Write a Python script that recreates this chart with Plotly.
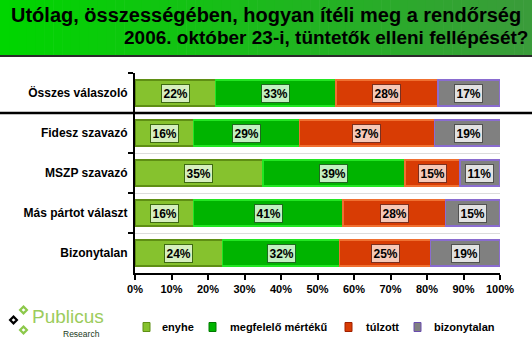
import plotly.graph_objects as go

# ---------------- data ----------------
categories = ["Összes válaszoló", "Fidesz szavazó", "MSZP szavazó",
              "Más pártot választ", "Bizonytalan"]
series_names = ["enyhe", "megfelelő mértékű", "túlzott", "bizonytalan"]
enyhe = [22, 16, 35, 16, 24]
megfelelo = [33, 29, 39, 41, 32]
tulzott = [28, 37, 15, 28, 25]
bizonytalan = [17, 19, 11, 15, 19]
x_ticks = [0, 10, 20, 30, 40, 50, 60, 70, 80, 90, 100]
title_lines = ["Utólag, összességében, hogyan ítéli meg a rendőrség",
               "2006. október 23-i, tüntetők elleni fellépését?"]

series_values = [enyhe, megfelelo, tulzott, bizonytalan]

# ---------------- styles ----------------
W, H = 532, 352
L, R, T, B = 135, 32, 73, 79
fill_colors = ["#86c22e", "#00b400", "#d83c04", "#808080"]
line_colors = ["#5f8f14", "#22e622", "#f07030", "#8a6cd0"]
legend_border = ["#5f8f14", "#007a00", "#a02000", "#6a4cb0"]
label_bg = ["#d6efbf", "#c2f0c2", "#f6c9b8", "#e2e2e2"]
label_border = ["#3d6a12", "#1f6a1f", "#7a3020", "#505050"]
FONT = "Liberation Sans, Arial, sans-serif"


def px(x, y):
    """pixel -> paper coords"""
    return (x - L) / (W - L - R), (H - B - y) / (H - T - B)


fig = go.Figure()
for name, vals, fc, lc in zip(series_names, series_values, fill_colors, line_colors):
    fig.add_trace(go.Bar(
        y=categories, x=vals, name=name, orientation="h",
        marker=dict(color=fc, line=dict(color=lc, width=1.5)),
        hoverinfo="skip", showlegend=False,
    ))

# value labels (boxes) placed through the data axes
annotations = []
for ci, cat in enumerate(categories):
    start = 0
    for si, vals in enumerate(series_values):
        v = vals[ci]
        annotations.append(dict(
            x=start + v / 2, y=cat, xref="x", yref="y",
            text=f"{v}%", showarrow=False,
            font=dict(family=FONT, size=12, color="black", weight="bold"),
            bgcolor=label_bg[si], bordercolor=label_border[si],
            borderwidth=1, borderpad=1.5,
        ))
        start += v

shapes = []
# title gradient band
N = 60
c0 = (0, 214, 0)
c1 = (58, 156, 58)
for i in range(N):
    t = i / (N - 1)
    col = "rgb(%d,%d,%d)" % tuple(int(a + (b - a) * t) for a, b in zip(c0, c1))
    x0, y0 = px(i * W / N, 0)
    x1, y1 = px((i + 1) * W / N + 0.6, 55)
    shapes.append(dict(type="rect", xref="paper", yref="paper",
                       x0=x0, x1=x1, y0=y0, y1=y1,
                       line=dict(width=0), fillcolor=col, layer="below"))
x0, y0 = px(0, 56)
x1, _ = px(W, 56)
shapes.append(dict(type="line", xref="paper", yref="paper", x0=x0, x1=x1,
                   y0=y0, y1=y0, line=dict(color="#2a2a2a", width=2)))

# separator under "Összes válaszoló"
sx0, _ = px(0, 0)
sx1, _ = px(W, 0)
shapes.append(dict(type="line", xref="paper", yref="y", x0=sx0, x1=sx1,
                   y0=0.5, y1=0.5, line=dict(color="black", width=2.5)))


# logo diamonds
def diamond(cx, cy, r, color):
    pts = [px(cx, cy - r), px(cx + r, cy), px(cx, cy + r), px(cx - r, cy)]
    path = "M " + " L ".join(f"{a},{b}" for a, b in pts) + " Z"
    return dict(type="path", xref="paper", yref="paper", path=path,
                line=dict(color=color, width=2.2), fillcolor="white")


shapes.append(diamond(13.5, 320, 3.4, "black"))
shapes.append(diamond(23.5, 310, 3.4, "#8cc84a"))
shapes.append(diamond(23.5, 330, 3.4, "#8cc84a"))

# title
tx, ty = px(9, 15.5)
annotations.append(dict(x=tx, y=ty, xref="paper", yref="paper", xanchor="left",
                        yanchor="middle", text=title_lines[0], showarrow=False,
                        font=dict(family=FONT, size=20, color="black", weight="bold")))
tx, ty = px(530, 37)
annotations.append(dict(x=tx, y=ty, xref="paper", yref="paper", xanchor="right",
                        yanchor="middle", text=title_lines[1], showarrow=False,
                        font=dict(family=FONT, size=19, color="black", weight="bold")))

# logo text
lx, ly = px(30, 316)
annotations.append(dict(x=lx, y=ly, xref="paper", yref="paper", xanchor="left",
                        yanchor="middle", text="Publicus", showarrow=False,
                        font=dict(family=FONT, size=19, color="#9ccc5c")))
lx, ly = px(102, 334)
annotations.append(dict(x=lx, y=ly, xref="paper", yref="paper", xanchor="right",
                        yanchor="middle", text="Research", showarrow=False,
                        font=dict(family=FONT, size=8.5, color="#1a3a1a")))

# manual legend
legend_sym_x = [143, 209, 345, 414]
legend_txt_x = [160, 228, 364, 432]
LY = 327
for name, fc, bc, sxp, txp in zip(series_names, fill_colors, legend_border,
                                  legend_sym_x, legend_txt_x):
    a0, b0 = px(sxp, LY - 4.5)
    a1, b1 = px(sxp + 7, LY + 4.5)
    shapes.append(dict(type="rect", xref="paper", yref="paper",
                       x0=a0, x1=a1, y0=b0, y1=b1,
                       fillcolor=fc, line=dict(color=bc, width=1)))
    tx, ty = px(txp, LY)
    annotations.append(dict(x=tx, y=ty, xref="paper", yref="paper",
                            xanchor="left", yanchor="middle", text=name,
                            showarrow=False,
                            font=dict(family=FONT, size=11, color="black",
                                      weight="bold")))

fig.update_layout(
    width=W, height=H,
    margin=dict(l=L, r=R, t=T, b=B, pad=0),
    paper_bgcolor="white", plot_bgcolor="white",
    barmode="stack", bargap=0.35,
    showlegend=False,
    xaxis=dict(range=[0, 100], tickvals=x_ticks,
               ticktext=[f"{v}%" for v in x_ticks],
               ticks="outside", ticklen=5, tickwidth=2, tickcolor="black",
               showline=True, linecolor="black", linewidth=2,
               showgrid=False, zeroline=False,
               tickfont=dict(family=FONT, size=11, color="black", weight="bold")),
    yaxis=dict(type="category", categoryarray=categories, autorange="reversed",
               tickson="boundaries", ticks="outside", ticklen=5, tickwidth=2,
               tickcolor="black", showline=True, linecolor="black", linewidth=2,
               showgrid=True, gridcolor="#dcdcdc", gridwidth=1,
               ticklabelstandoff=3,
               tickfont=dict(family=FONT, size=12, color="black", weight="bold")),
    annotations=annotations,
    shapes=shapes,
)

fig.write_html("out.html")
